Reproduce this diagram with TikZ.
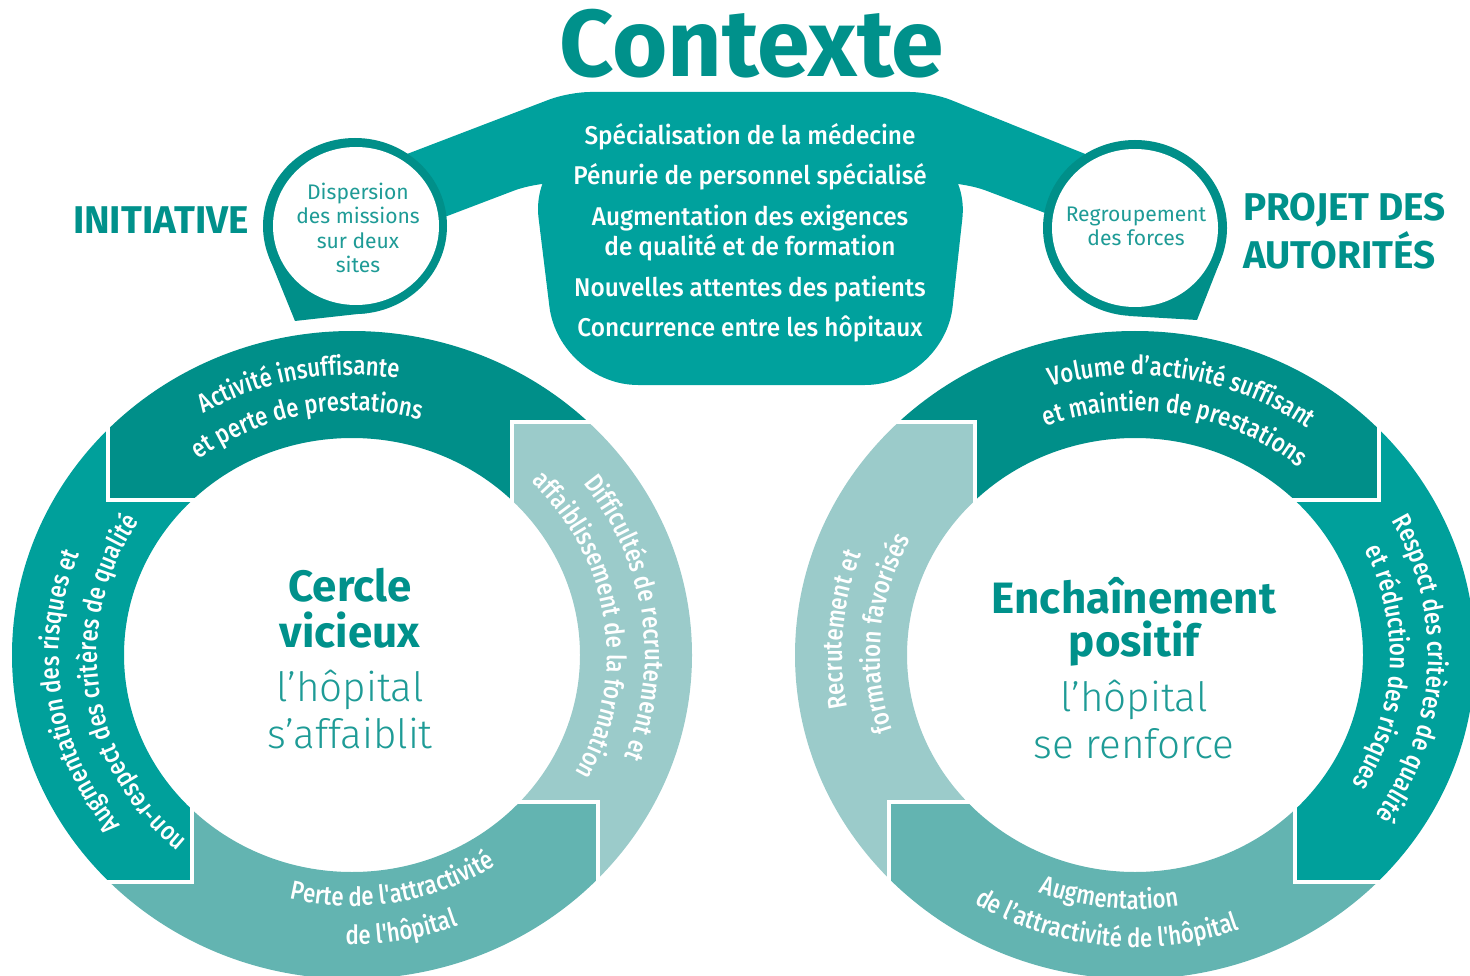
\documentclass[tikz,border=0pt]{standalone}
\usepackage{fontspec}
\setmainfont{Fira Sans}
\newfontfamily\ringfamily{Fira Sans Medium}[FakeStretch=0.84]
\newfontfamily\listfamily{Fira Sans Medium}[FakeStretch=0.95]
\newfontfamily\lightfamily{Fira Sans Light}
\usetikzlibrary{decorations.text}

\definecolor{titleteal}{HTML}{00918B}
\definecolor{bandteal}{HTML}{00A19D}
\definecolor{darkteal}{HTML}{008F89}
\definecolor{midteal}{HTML}{00A09B}
\definecolor{softteal}{HTML}{63B4B1}
\definecolor{paleteal}{HTML}{9BCBCA}
\definecolor{pintext}{HTML}{1E9B96}

\newcommand\ringtext{\ringfamily\fontsize{15}{17}\selectfont}

\tikzset{
  heading/.style={text=titleteal, inner sep=0pt, font=\bfseries\fontsize{22}{24}\selectfont},
  listline/.style={text=white, inner sep=0pt, font=\listfamily\fontsize{14.6}{17}\selectfont},
  pinline/.style={text=pintext, align=center, inner sep=0pt, font=\fontsize{12}{13.8}\selectfont},
  bigword/.style={text=titleteal, inner sep=0pt, font=\bfseries\fontsize{25}{28}\selectfont},
  softword/.style={text=pintext, inner sep=0pt, font=\lightfamily\fontsize{23}{27}\selectfont},
  cut/.style={white, line width=2.3pt},
  ringlabel/.style={decorate, decoration={text along path, text align=center, text color=white, text={|\ringtext|#1}}}
}

% one coloured part of a ring: the annulus cut by a polygon
\newcommand\band[2]{%
  \begin{scope}
    \clip #1 -- cycle;
    \fill[#2, even odd rule] (0,0) ellipse[x radius=340, y radius=324] (0,0) ellipse[x radius=228, y radius=217];
  \end{scope}}

% the four parts of a ring, centred on (0,0)
\newcommand\ringbands{%
  \band{(-244,-455) -- (-244,-155) -- (-122,-155) -- (0,0) -- (160,-95) -- (160,-233) -- (448,-233) -- (448,-455)}{darkteal}
  \band{(160,-233) -- (160,-95) -- (0,0) -- (128,147) -- (246,147) -- (246,445) -- (548,445) -- (548,-233)}{paleteal}
  \band{(246,445) -- (246,147) -- (128,147) -- (0,0) -- (-160,125) -- (-160,227) -- (-452,227) -- (-452,445)}{softteal}
  \band{(-452,227) -- (-160,227) -- (-160,125) -- (0,0) -- (-122,-155) -- (-244,-155) -- (-244,-455) -- (-452,-455)}{midteal}
  % white gaps between the parts
  \draw[cut] (-244,-300) -- (-244,-155) -- (-122,-155);
  \draw[cut] (160,-95) -- (160,-233) -- (300,-233);
  \draw[cut] (128,147) -- (246,147) -- (246,400);
  \draw[cut] (-160,125) -- (-160,227) -- (-400,227);
}

% text on an arc: centre x, centre y, x radius, y radius, from, to, text
\newcommand\ringarc[7]{%
  \path[ringlabel={#7}] ([shift={(#5:#3 and #4)}]#1,#2) arc[start angle=#5, end angle=#6, x radius=#3, y radius=#4];}

\begin{document}
\begin{tikzpicture}[x=0.02cm, y=-0.02cm]
    \useasboundingbox (0,0) rectangle (1470,976);
    \clip (0,0) rectangle (1470,976);

    % banner with its two arms
    \fill[bandteal, rounded corners=45] (529,140) -- (971,140) -- (944,385) -- (559,385) -- cycle;
    \fill[bandteal, rounded corners=12] (360,172) -- (569,92) -- (931,92) -- (1130,172) -- (1090,230) -- (966,183) -- (534,183) -- (400,234) -- cycle;

    % pins
    \fill[darkteal] (355,226) ellipse[x radius=92, y radius=88];
    \fill[darkteal] (295,321) -- (367,313) -- (355,226) -- (269,257) -- cycle;
    \fill[white] (356,226) ellipse[x radius=83, y radius=79];
    \fill[darkteal] (1135,228) ellipse[x radius=92, y radius=88];
    \fill[darkteal] (1197,320) -- (1129,316) -- (1135,228) -- (1221,259) -- cycle;
    \fill[white] (1135,228) ellipse[x radius=83, y radius=79];

    % rings
    \begin{scope}[shift={(352,655)}]
        \ringbands
    \end{scope}
    \begin{scope}[shift={(1135,655)}, xscale=-1]
        \ringbands
    \end{scope}

    % headings
    \node[heading, font=\bfseries\fontsize{54}{58}\selectfont] (contexte) at (752,44) {Contexte};
    \node[heading] (initiative) at (161,220) {INITIATIVE};
    \node[heading, anchor=west] (projet) at (1243,210) {PROJET DES};
    \node[heading, anchor=west] (autorites) at (1243,250) {AUTORITÉS};

    % banner lines
    \node[listline] (specialisation) at (750,137) {Spécialisation de la médecine};
    \node[listline] (penurie) at (750,177) {Pénurie de personnel spécialisé};
    \node[listline] (exigences) at (750,218) {Augmentation des exigences};
    \node[listline] (qualite) at (750,248) {de qualité et de formation};
    \node[listline] (attentes) at (750,289) {Nouvelles attentes des patients};
    \node[listline] (concurrence) at (750,329) {Concurrence entre les hôpitaux};

    % pin texts
    \node[pinline] (dispersion) at (358,228) {Dispersion\\des missions\\sur deux\\sites};
    \node[pinline] (regroupement) at (1136,226) {Regroupement\\des forces};

    % ring centres
    \node[bigword] (cercle) at (350,585) {Cercle};
    \node[bigword] (vicieux) at (350,630) {vicieux};
    \node[softword] (hopital) at (350,690) {l’hôpital};
    \node[softword] (affaiblit) at (350,734) {s’affaiblit};
    \node[bigword] (enchainement) at (1134,596) {Enchaînement};
    \node[bigword] (positif) at (1134,644) {positif};
    \node[softword] (hopitaldeux) at (1134,700) {l’hôpital};
    \node[softword] (renforce) at (1134,744) {se renforce};

    % left ring labels
    \ringarc{352}{655}{294}{280}{-170}{-32}{Activité insuffisante}
    \ringarc{352}{655}{256}{244}{-170}{-32}{et perte de prestations}
    \ringarc{352}{655}{293}{279}{-75}{59}{Difficultés de recrutement et}
    \ringarc{352}{655}{255}{243}{-75}{59}{affaiblissement de la formation}
    \ringarc{352}{655}{263}{251}{145}{15}{Perte de l'attractivité}
    \ringarc{352}{655}{303}{289}{145}{15}{de l'hôpital}
    \ringarc{352}{655}{293}{279}{110}{234}{Augmentation des risques et}
    \ringarc{352}{655}{255}{243}{110}{234}{non-respect des critères de qualité}

    % right ring labels
    \ringarc{1135}{655}{294}{280}{-150}{-10}{Volume d’activité suffisant}
    \ringarc{1135}{655}{256}{244}{-150}{-10}{et maintien de prestations}
    \ringarc{1135}{655}{293}{279}{125}{245}{Recrutement et}
    \ringarc{1135}{655}{255}{243}{125}{245}{formation favorisés}
    \ringarc{1135}{655}{293}{279}{-60}{66}{Respect des critères de qualité}
    \ringarc{1135}{655}{255}{243}{-60}{66}{et réduction des risques}
    \ringarc{1135}{655}{267}{254}{155}{37}{Augmentation}
    \ringarc{1135}{655}{306}{292}{155}{37}{de l’attractivité de l'hôpital}

\end{tikzpicture}
\end{document}
